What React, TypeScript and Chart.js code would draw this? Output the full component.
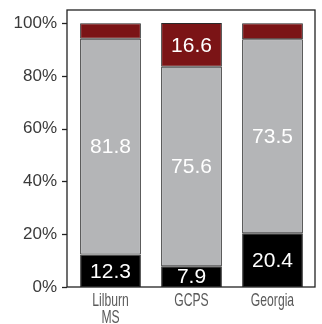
import React, { useEffect, useRef } from "react";
import { Chart, registerables } from "chart.js";

Chart.register(...registerables);

const categories: string[][] = [["Lilburn", "MS"], ["GCPS"], ["Georgia"]];
const bottomSeries = [12.3, 7.9, 20.4];
const middleSeries = [81.8, 75.6, 73.5];
const topSeries = [5.9, 16.6, 6.1];
const yTickValues = [0, 20, 40, 60, 80, 100];

const INK = "#3a3a3a";

const framePlugin = {
  id: "frame",
  afterDatasetsDraw(chart: any) {
    const { ctx, chartArea, scales } = chart;
    const y = scales.y;
    const x = scales.x;
    const left = chartArea.left - 3;
    const right = chartArea.right + 2;
    ctx.save();
    ctx.strokeStyle = "#222";
    ctx.lineWidth = 1.3;
    ctx.strokeRect(left, chartArea.top, right - left, chartArea.bottom - chartArea.top);
    for (const v of yTickValues) {
      const py = Math.round(y.getPixelForValue(v)) + 0.5;
      ctx.beginPath();
      ctx.moveTo(left - 5, py);
      ctx.lineTo(left, py);
      ctx.stroke();
    }
    // segment value labels
    ctx.fillStyle = "#ffffff";
    ctx.font = "21px 'Liberation Sans', Arial, sans-serif";
    ctx.textAlign = "center";
    ctx.textBaseline = "middle";
    chart.data.datasets.forEach((ds: any, di: number) => {
      const meta = chart.getDatasetMeta(di);
      meta.data.forEach((bar: any, i: number) => {
        const v = ds.data[i];
        if (v < 7) return;
        const cy = (bar.y + bar.base) / 2;
        ctx.fillText(v.toFixed(1), bar.x, cy + 1);
      });
    });
    // condensed category labels
    ctx.fillStyle = "#5a5a5a";
    ctx.font = "19px 'Liberation Sans', Arial, sans-serif";
    ctx.textBaseline = "top";
    categories.forEach((lines, i) => {
      const cx = x.getPixelForValue(i);
      lines.forEach((line, li) => {
        ctx.save();
        ctx.translate(cx, chartArea.bottom + 4 + li * 17.5);
        ctx.scale(0.64, 1);
        ctx.fillText(line, 0, 0);
        ctx.restore();
      });
    });
    ctx.restore();
  },
};

export default function App() {
  const ref = useRef<HTMLCanvasElement | null>(null);
  useEffect(() => {
    document.body.style.margin = "0";
    const chart = new Chart(ref.current!, {
      type: "bar",
      data: {
        labels: categories.map((l) => l.join(" ")),
        datasets: [
          { label: "bottom", data: bottomSeries, backgroundColor: "#000000" },
          { label: "middle", data: middleSeries, backgroundColor: "#b4b5b7" },
          { label: "top", data: topSeries, backgroundColor: "#7b1416" },
        ].map((d) => ({
          ...d,
          borderColor: "#2a2a2a",
          borderWidth: 1,
          borderSkipped: false,
          barPercentage: 0.75,
          categoryPercentage: 1,
        })),
      },
      options: {
        animation: false,
        responsive: false,
        layout: { padding: { top: 10, right: 9, left: 0, bottom: 0 } },
        plugins: { legend: { display: false }, tooltip: { enabled: false } },
        scales: {
          x: {
            stacked: true,
            grid: { display: false, drawTicks: false },
            border: { display: false },
            ticks: { display: false },
            afterFit: (s: any) => {
              s.height = 37;
              s.paddingLeft = 0;
              s.paddingRight = 0;
            },
          },
          y: {
            stacked: true,
            min: 0,
            max: 105,
            grid: { display: false, drawTicks: false },
            border: { display: false },
            afterBuildTicks: (s: any) => {
              s.ticks = yTickValues.map((v) => ({ value: v }));
            },
            ticks: {
              padding: 13,
              color: INK,
              font: { family: "'Liberation Sans', Arial, sans-serif", size: 17 },
              callback: (v: any) => v + "%",
            },
            afterFit: (s: any) => {
              s.width = 70;
              s.paddingTop = 0;
              s.paddingBottom = 0;
            },
          },
        },
      },
      plugins: [framePlugin],
    });
    return () => chart.destroy();
  }, []);
  return (
    <div style={{ width: 322, height: 324, position: "relative", background: "#fff" }}>
      <canvas ref={ref} width={322} height={324} />
    </div>
  );
}
